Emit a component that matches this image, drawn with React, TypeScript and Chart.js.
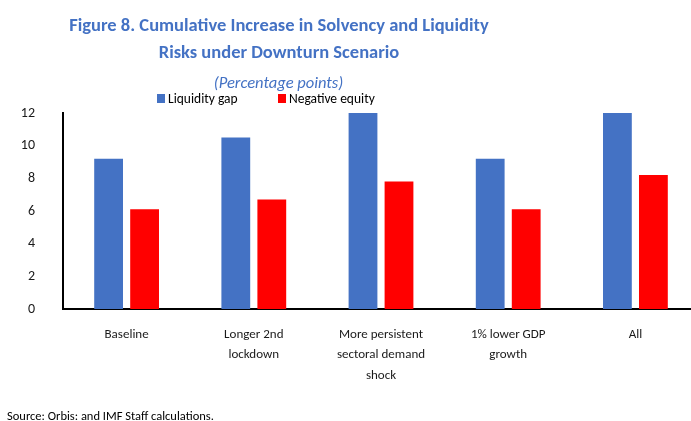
import React, { useEffect, useRef } from "react";
import { Chart, registerables } from "chart.js";

Chart.register(...registerables);

const titleLines = ["Figure 8. Cumulative Increase in Solvency and Liquidity", "Risks under Downturn Scenario"];
const subtitle = "(Percentage points)";
const sourceNote = "Source: Orbis: and IMF Staff calculations.";
const categories: string[][] = [
  ["Baseline"],
  ["Longer 2nd", "lockdown"],
  ["More persistent", "sectoral demand", "shock"],
  ["1% lower GDP", "growth"],
  ["All"],
];
const seriesNames = ["Liquidity gap", "Negative equity"];
const liquidityGap = [9.2, 10.5, 12, 9.2, 12];
const negativeEquity = [6.1, 6.7, 7.8, 6.1, 8.2];
const yTicks = [0, 2, 4, 6, 8, 10, 12];
const colors = ["#4472C4", "#FF0000"];

const FONT = "Carlito, Calibri, 'Liberation Sans Narrow', sans-serif";

export default function App() {
  const ref = useRef<HTMLCanvasElement>(null);
  useEffect(() => {
    const chart = new Chart(ref.current!, {
      type: "bar",
      data: {
        labels: categories,
        datasets: [
          { label: seriesNames[0], data: liquidityGap, backgroundColor: colors[0] },
          { label: seriesNames[1], data: negativeEquity, backgroundColor: colors[1] },
        ],
      },
      options: {
        responsive: false,
        animation: false,
        devicePixelRatio: 1,
        layout: { padding: { top: 113, right: 6, left: 0, bottom: 0 } },
        datasets: { bar: { categoryPercentage: 0.566, barPercentage: 0.8 } },
        plugins: { legend: { display: false }, title: { display: false }, tooltip: { enabled: false } },
        scales: {
          x: {
            grid: { display: false, drawTicks: false },
            border: { display: true, color: "#000", width: 2 },
            ticks: {
              color: "#1a1a1a",
              font: { family: FONT, size: 13, lineHeight: 1.6 },
              padding: 15,
              maxRotation: 0,
              autoSkip: false,
            },
            afterFit: (s: any) => {
              s.height = 112;
            },
          },
          y: {
            min: 0,
            max: 12,
            grid: { display: false, drawTicks: false },
            border: { display: true, color: "#000", width: 2 },
            afterBuildTicks: (s: any) => {
              s.ticks = yTicks.map((v) => ({ value: v }));
            },
            ticks: {
              color: "#1a1a1a",
              font: { family: FONT, size: 14 },
              padding: 28,
            },
            afterFit: (s: any) => {
              s.width = 63;
            },
          },
        },
      },
    });
    return () => chart.destroy();
  }, []);

  return (
    <div style={{ position: "absolute", left: 0, top: 0, width: 691, height: 421, overflow: "hidden", background: "#fff" }}>
      <canvas ref={ref} width={705} height={421} style={{ position: "absolute", left: 0, top: 0 }} />
      <div
        style={{
          position: "absolute",
          left: 0,
          top: 11,
          width: 558,
          textAlign: "center",
          fontFamily: FONT,
          fontWeight: "bold",
          fontSize: 18.5,
          lineHeight: "27px",
          color: "#4472C4",
        }}
      >
        {titleLines.map((t) => (
          <div key={t}>{t}</div>
        ))}
      </div>
      <div
        style={{
          position: "absolute",
          left: 0,
          top: 71,
          width: 557,
          textAlign: "center",
          fontFamily: FONT,
          fontStyle: "italic",
          fontSize: 16.5,
          lineHeight: "22px",
          color: "#4472C4",
        }}
      >
        {subtitle}
      </div>
      <div style={{ position: "absolute", left: 157, top: 89, height: 18, display: "flex", alignItems: "center", fontFamily: FONT, fontSize: 13.5, color: "#000" }}>
        {seriesNames.map((n, i) => (
          <div key={n} style={{ display: "flex", alignItems: "center", width: i === 0 ? 121 : undefined }}>
            <span style={{ display: "inline-block", width: 8, height: 9, background: colors[i], marginRight: 3 }} />
            <span>{n}</span>
          </div>
        ))}
      </div>
      <div style={{ position: "absolute", left: 7, top: 407, fontFamily: FONT, fontSize: 12.5, lineHeight: "18px", color: "#000" }}>
        {sourceNote}
      </div>
    </div>
  );
}
